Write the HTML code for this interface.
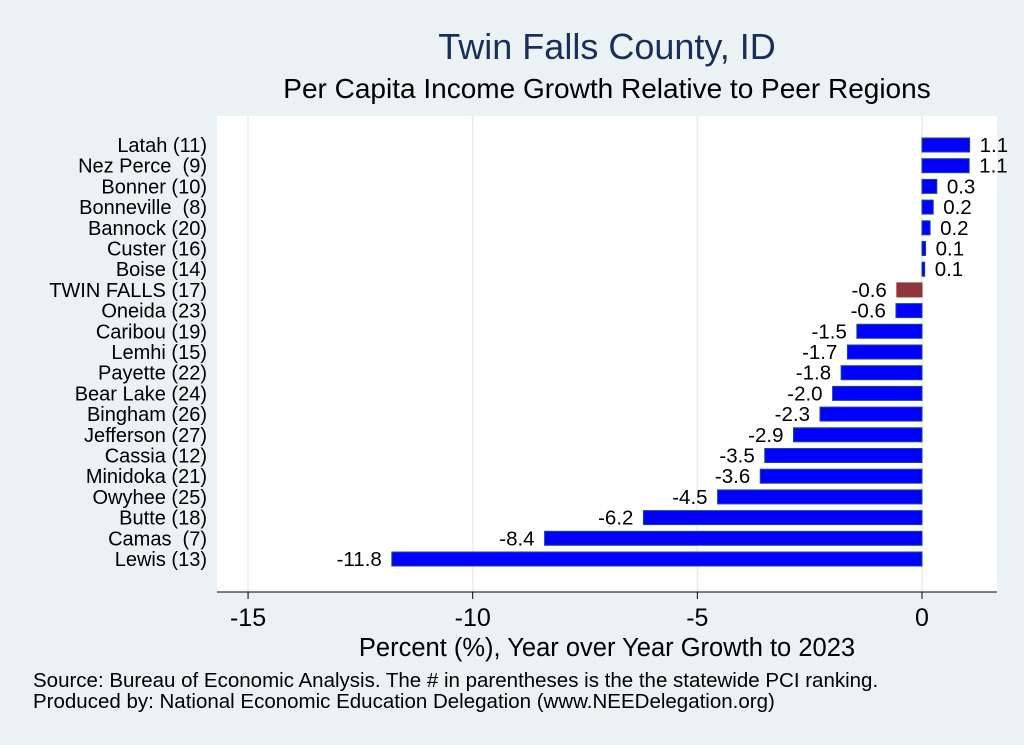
<!DOCTYPE html>
<html><head><meta charset="utf-8"><style>
body{margin:0;background:#eaf2f3;font-family:"Liberation Sans",sans-serif}
svg{display:block}
</style></head><body>
<svg width="1024" height="745" xmlns="http://www.w3.org/2000/svg">
<rect width="1024" height="745" fill="#eaf2f3"/>
<text x="607" y="59" text-anchor="middle" font-size="36" fill="#1a2e5a">Twin Falls County, ID</text>
<text x="607" y="98" text-anchor="middle" font-size="28" fill="#000">Per Capita Income Growth Relative to Peer Regions</text>
<rect x="217" y="116" width="780" height="476" fill="#fff"/>
<g id="grid"></g><g id="bars"></g><g id="ylabels"></g><g id="xaxis"></g>
<text x="607" y="656" text-anchor="middle" font-size="25.5" fill="#000">Percent (%), Year over Year Growth to 2023</text>
<text x="33" y="687" font-size="20.5" fill="#000">Source: Bureau of Economic Analysis. The # in parentheses is the the statewide PCI ranking.</text>
<text x="33" y="708" font-size="20.5" fill="#000">Produced by: National Economic Education Delegation (www.NEEDelegation.org)</text>
</svg>
<script>
const categories=["Latah (11)","Nez Perce  (9)","Bonner (10)","Bonneville  (8)","Bannock (20)","Custer (16)","Boise (14)","TWIN FALLS (17)","Oneida (23)","Caribou (19)","Lemhi (15)","Payette (22)","Bear Lake (24)","Bingham (26)","Jefferson (27)","Cassia (12)","Minidoka (21)","Owyhee (25)","Butte (18)","Camas  (7)","Lewis (13)"];
const values=[1.06,1.05,0.33,0.25,0.18,0.08,0.06,-0.56,-0.58,-1.45,-1.66,-1.8,-1.99,-2.27,-2.86,-3.5,-3.6,-4.55,-6.2,-8.4,-11.8];
const labels=["1.1","1.1","0.3","0.2","0.2","0.1","0.1","-0.6","-0.6","-1.5","-1.7","-1.8","-2.0","-2.3","-2.9","-3.5","-3.6","-4.5","-6.2","-8.4","-11.8"];
const ticks=[-15,-10,-5,0];
const NS="http://www.w3.org/2000/svg";
const xs=v=>922+v*44.93;
const ys=i=>145+i*20.7;
function mk(t,a,p){const e=document.createElementNS(NS,t);for(const k in a)e.setAttribute(k,a[k]);document.getElementById(p).appendChild(e);return e;}
ticks.forEach(t=>{
 const g=mk('line',{x1:xs(t),x2:xs(t),y1:116,y2:592,stroke:'#e6eef0','stroke-width':1.5},'grid');
 
 
 const tk=mk('line',{x1:xs(t),x2:xs(t),y1:592,y2:599,stroke:'#000'},'xaxis');
 
 
 const tl=mk('text',{x:xs(t),y:626,'text-anchor':'middle','font-size':25},'xaxis');
 tl.textContent=String(t);
 
 
});
const ax=mk('line',{x1:217,x2:997,y1:592,y2:592,stroke:'#000'},'xaxis');


categories.forEach((c,i)=>{
 const v=values[i],y=ys(i);
 const x0=Math.min(xs(0),xs(v)),w=Math.abs(xs(v)-xs(0));
 const r=mk('rect',{x:x0,y:y-7,width:Math.max(w,1),height:14,fill:i==7?'#90353b':'#0000ff',stroke:i==7?'#90353b':'#1a4a8a','stroke-width':1},'bars');
 
 
 const vl=mk('text',{x:v>=0?xs(v)+10:xs(v)-10,y:y+7,'text-anchor':v>=0?'start':'end','font-size':20.5},'bars');
 vl.textContent=labels[i];
 
 
 const cl=mk('text',{x:207,y:y+7,'text-anchor':'end','font-size':20},'ylabels');
 cl.setAttribute('xml:space','preserve');
 cl.style.whiteSpace='pre';
 cl.textContent=c;
 
 
});
</script>
</body></html>
